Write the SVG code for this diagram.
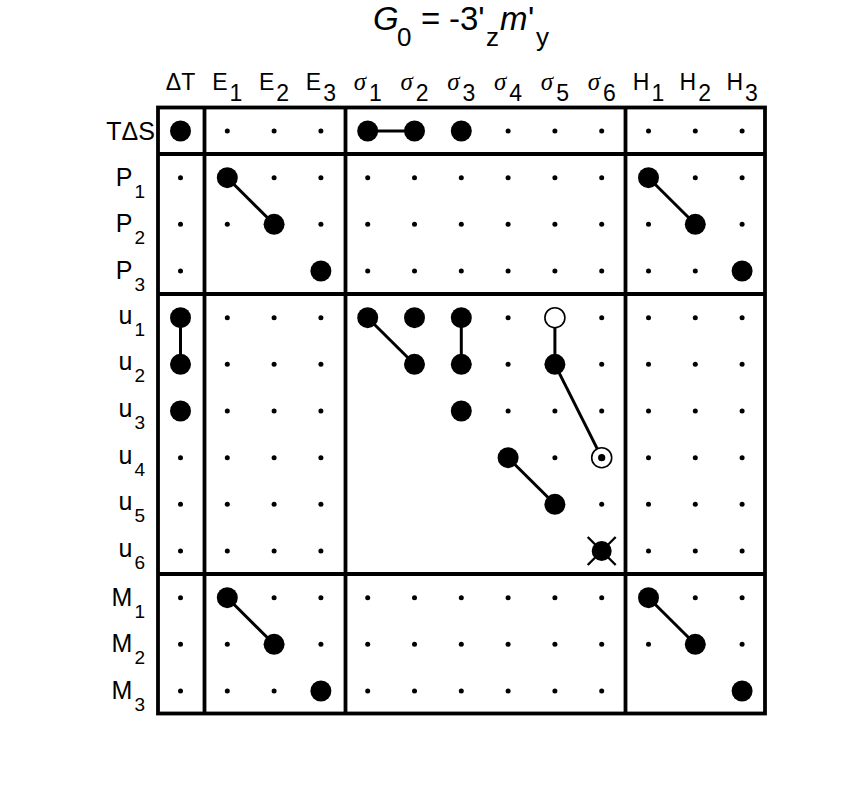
<svg xmlns="http://www.w3.org/2000/svg" xmlns:xlink="http://www.w3.org/1999/xlink" width="856" height="812" viewBox="0 0 856 812">
<style>
.t{font-family:"Liberation Sans",Arial,sans-serif;fill:#000}
.h{font-size:23px}
.g{font-family:"Liberation Serif","Times New Roman",serif;font-style:italic;font-size:25px}
.r{font-size:25px}
.rs{font-size:19px}
.frame{fill:none;stroke:#000;stroke-width:3.8}
.sep{stroke:#000;stroke-width:3.8}
.c{stroke:#000;stroke-width:3;fill:none}
</style>
<defs>
<circle id="d" r="2.5" fill="#000"/>
<circle id="F" r="10.5" fill="#000"/>
<circle id="O" r="10" fill="#fff" stroke="#000" stroke-width="1.6"/>
<g id="C"><circle r="10" fill="#fff" stroke="#000" stroke-width="1.6"/><circle r="3.6" fill="#000"/></g>
<g id="X"><path d="M-14,-14L14,14M14,-14L-14,14" stroke="#000" stroke-width="2.4"/><circle r="10" fill="#000"/></g>
</defs>
<rect width="856" height="812" fill="#fff"/>

<g id="title" class="t">
<text y="30" font-size="33"><tspan x="373" font-style="italic">G</tspan><tspan x="397" y="46" font-size="26">0</tspan><tspan x="421" y="30">=</tspan><tspan x="449">-3'</tspan><tspan x="486" y="46" font-size="26">z</tspan><tspan x="500" y="30" font-style="italic">m</tspan><tspan x="528">'</tspan><tspan x="536" y="46" font-size="26">y</tspan></text>
</g>

<g id="col-headers" class="t h">
<text x="180.5" y="90" text-anchor="middle">ΔT</text>
<text x="227.3" y="90" text-anchor="middle">E<tspan dx="2" dy="11">1</tspan></text>
<text x="274.1" y="90" text-anchor="middle">E<tspan dx="2" dy="11">2</tspan></text>
<text x="320.9" y="90" text-anchor="middle">E<tspan dx="2" dy="11">3</tspan></text>
<text x="367.7" y="90" text-anchor="middle"><tspan class="g">σ</tspan><tspan dx="3" dy="11">1</tspan></text>
<text x="414.5" y="90" text-anchor="middle"><tspan class="g">σ</tspan><tspan dx="3" dy="11">2</tspan></text>
<text x="461.3" y="90" text-anchor="middle"><tspan class="g">σ</tspan><tspan dx="3" dy="11">3</tspan></text>
<text x="508.1" y="90" text-anchor="middle"><tspan class="g">σ</tspan><tspan dx="3" dy="11">4</tspan></text>
<text x="554.9" y="90" text-anchor="middle"><tspan class="g">σ</tspan><tspan dx="3" dy="11">5</tspan></text>
<text x="601.7" y="90" text-anchor="middle"><tspan class="g">σ</tspan><tspan dx="3" dy="11">6</tspan></text>
<text x="648.5" y="90" text-anchor="middle">H<tspan dx="2" dy="11">1</tspan></text>
<text x="695.3" y="90" text-anchor="middle">H<tspan dx="2" dy="11">2</tspan></text>
<text x="742.1" y="90" text-anchor="middle">H<tspan dx="2" dy="11">3</tspan></text>
</g>

<g id="row-labels" class="t r">
<text x="155" y="140" text-anchor="end">TΔS</text>
<text x="145" y="186" text-anchor="end">P<tspan class="rs" dx="2" dy="12">1</tspan></text>
<text x="145" y="232" text-anchor="end">P<tspan class="rs" dx="2" dy="12">2</tspan></text>
<text x="145" y="279" text-anchor="end">P<tspan class="rs" dx="2" dy="12">3</tspan></text>
<text x="145" y="324" text-anchor="end">u<tspan class="rs" dx="2" dy="12">1</tspan></text>
<text x="145" y="370" text-anchor="end">u<tspan class="rs" dx="2" dy="12">2</tspan></text>
<text x="145" y="417" text-anchor="end">u<tspan class="rs" dx="2" dy="12">3</tspan></text>
<text x="145" y="464" text-anchor="end">u<tspan class="rs" dx="2" dy="12">4</tspan></text>
<text x="145" y="510" text-anchor="end">u<tspan class="rs" dx="2" dy="12">5</tspan></text>
<text x="145" y="557" text-anchor="end">u<tspan class="rs" dx="2" dy="12">6</tspan></text>
<text x="145" y="606" text-anchor="end">M<tspan class="rs" dx="2" dy="12">1</tspan></text>
<text x="145" y="652" text-anchor="end">M<tspan class="rs" dx="2" dy="12">2</tspan></text>
<text x="145" y="699" text-anchor="end">M<tspan class="rs" dx="2" dy="12">3</tspan></text>
</g>

<g id="frame">
<rect class="frame" x="158" y="107.5" width="607" height="606"/>
<line class="sep" x1="204.5" y1="107.5" x2="204.5" y2="713.5"/>
<line class="sep" x1="345.5" y1="107.5" x2="345.5" y2="713.5"/>
<line class="sep" x1="625.5" y1="107.5" x2="625.5" y2="713.5"/>
<line class="sep" x1="158" y1="154" x2="765" y2="154"/>
<line class="sep" x1="158" y1="294" x2="765" y2="294"/>
<line class="sep" x1="158" y1="574" x2="765" y2="574"/>
</g>

<g id="connectors" class="c">
<line x1="367.7" y1="131" x2="414.5" y2="131"/>
<line x1="227.3" y1="177.7" x2="274.1" y2="224.3"/>
<line x1="648.5" y1="177.7" x2="695.3" y2="224.3"/>
<line x1="180.5" y1="317.7" x2="180.5" y2="364.3"/>
<line x1="367.7" y1="317.7" x2="414.5" y2="364.3"/>
<line x1="461.3" y1="317.7" x2="461.3" y2="364.3"/>
<line x1="554.9" y1="317.7" x2="554.9" y2="364.3"/>
<line x1="554.9" y1="364.3" x2="601.7" y2="457.7"/>
<line x1="508.1" y1="457.7" x2="554.9" y2="504.3"/>
<line x1="227.3" y1="597.7" x2="274.1" y2="644.3"/>
<line x1="648.5" y1="597.7" x2="695.3" y2="644.3"/>
</g>

<g id="grid-dots">
<use href="#d" x="227.3" y="131"/><use href="#d" x="274.1" y="131"/><use href="#d" x="320.9" y="131"/><use href="#d" x="508.1" y="131"/><use href="#d" x="554.9" y="131"/><use href="#d" x="601.7" y="131"/><use href="#d" x="648.5" y="131"/><use href="#d" x="695.3" y="131"/><use href="#d" x="742.1" y="131"/>
<use href="#d" x="180.5" y="177.7"/><use href="#d" x="274.1" y="177.7"/><use href="#d" x="320.9" y="177.7"/><use href="#d" x="367.7" y="177.7"/><use href="#d" x="414.5" y="177.7"/><use href="#d" x="461.3" y="177.7"/><use href="#d" x="508.1" y="177.7"/><use href="#d" x="554.9" y="177.7"/><use href="#d" x="601.7" y="177.7"/><use href="#d" x="695.3" y="177.7"/><use href="#d" x="742.1" y="177.7"/>
<use href="#d" x="180.5" y="224.3"/><use href="#d" x="227.3" y="224.3"/><use href="#d" x="320.9" y="224.3"/><use href="#d" x="367.7" y="224.3"/><use href="#d" x="414.5" y="224.3"/><use href="#d" x="461.3" y="224.3"/><use href="#d" x="508.1" y="224.3"/><use href="#d" x="554.9" y="224.3"/><use href="#d" x="601.7" y="224.3"/><use href="#d" x="648.5" y="224.3"/><use href="#d" x="742.1" y="224.3"/>
<use href="#d" x="180.5" y="271"/><use href="#d" x="367.7" y="271"/><use href="#d" x="414.5" y="271"/><use href="#d" x="461.3" y="271"/><use href="#d" x="508.1" y="271"/><use href="#d" x="554.9" y="271"/><use href="#d" x="601.7" y="271"/><use href="#d" x="648.5" y="271"/><use href="#d" x="695.3" y="271"/>
<use href="#d" x="227.3" y="317.7"/><use href="#d" x="274.1" y="317.7"/><use href="#d" x="320.9" y="317.7"/><use href="#d" x="508.1" y="317.7"/><use href="#d" x="601.7" y="317.7"/><use href="#d" x="648.5" y="317.7"/><use href="#d" x="695.3" y="317.7"/><use href="#d" x="742.1" y="317.7"/>
<use href="#d" x="227.3" y="364.3"/><use href="#d" x="274.1" y="364.3"/><use href="#d" x="320.9" y="364.3"/><use href="#d" x="508.1" y="364.3"/><use href="#d" x="601.7" y="364.3"/><use href="#d" x="648.5" y="364.3"/><use href="#d" x="695.3" y="364.3"/><use href="#d" x="742.1" y="364.3"/>
<use href="#d" x="227.3" y="411"/><use href="#d" x="274.1" y="411"/><use href="#d" x="320.9" y="411"/><use href="#d" x="508.1" y="411"/><use href="#d" x="554.9" y="411"/><use href="#d" x="601.7" y="411"/><use href="#d" x="648.5" y="411"/><use href="#d" x="695.3" y="411"/><use href="#d" x="742.1" y="411"/>
<use href="#d" x="180.5" y="457.7"/><use href="#d" x="227.3" y="457.7"/><use href="#d" x="274.1" y="457.7"/><use href="#d" x="320.9" y="457.7"/><use href="#d" x="554.9" y="457.7"/><use href="#d" x="648.5" y="457.7"/><use href="#d" x="695.3" y="457.7"/><use href="#d" x="742.1" y="457.7"/>
<use href="#d" x="180.5" y="504.3"/><use href="#d" x="227.3" y="504.3"/><use href="#d" x="274.1" y="504.3"/><use href="#d" x="320.9" y="504.3"/><use href="#d" x="601.7" y="504.3"/><use href="#d" x="648.5" y="504.3"/><use href="#d" x="695.3" y="504.3"/><use href="#d" x="742.1" y="504.3"/>
<use href="#d" x="180.5" y="551"/><use href="#d" x="227.3" y="551"/><use href="#d" x="274.1" y="551"/><use href="#d" x="320.9" y="551"/><use href="#d" x="648.5" y="551"/><use href="#d" x="695.3" y="551"/><use href="#d" x="742.1" y="551"/>
<use href="#d" x="180.5" y="597.7"/><use href="#d" x="274.1" y="597.7"/><use href="#d" x="320.9" y="597.7"/><use href="#d" x="367.7" y="597.7"/><use href="#d" x="414.5" y="597.7"/><use href="#d" x="461.3" y="597.7"/><use href="#d" x="508.1" y="597.7"/><use href="#d" x="554.9" y="597.7"/><use href="#d" x="601.7" y="597.7"/><use href="#d" x="695.3" y="597.7"/><use href="#d" x="742.1" y="597.7"/>
<use href="#d" x="180.5" y="644.3"/><use href="#d" x="227.3" y="644.3"/><use href="#d" x="320.9" y="644.3"/><use href="#d" x="367.7" y="644.3"/><use href="#d" x="414.5" y="644.3"/><use href="#d" x="461.3" y="644.3"/><use href="#d" x="508.1" y="644.3"/><use href="#d" x="554.9" y="644.3"/><use href="#d" x="601.7" y="644.3"/><use href="#d" x="648.5" y="644.3"/><use href="#d" x="742.1" y="644.3"/>
<use href="#d" x="180.5" y="691"/><use href="#d" x="227.3" y="691"/><use href="#d" x="274.1" y="691"/><use href="#d" x="367.7" y="691"/><use href="#d" x="414.5" y="691"/><use href="#d" x="461.3" y="691"/><use href="#d" x="508.1" y="691"/><use href="#d" x="554.9" y="691"/><use href="#d" x="601.7" y="691"/>
</g>

<g id="nodes">
<g id="n-TdS-dT"><use href="#F" x="180.5" y="131"/></g>
<g id="n-TdS-s1"><use href="#F" x="367.7" y="131"/></g>
<g id="n-TdS-s2"><use href="#F" x="414.5" y="131"/></g>
<g id="n-TdS-s3"><use href="#F" x="461.3" y="131"/></g>
<g id="n-P1-E1"><use href="#F" x="227.3" y="177.7"/></g>
<g id="n-P1-H1"><use href="#F" x="648.5" y="177.7"/></g>
<g id="n-P2-E2"><use href="#F" x="274.1" y="224.3"/></g>
<g id="n-P2-H2"><use href="#F" x="695.3" y="224.3"/></g>
<g id="n-P3-E3"><use href="#F" x="320.9" y="271"/></g>
<g id="n-P3-H3"><use href="#F" x="742.1" y="271"/></g>
<g id="n-u1-dT"><use href="#F" x="180.5" y="317.7"/></g>
<g id="n-u1-s1"><use href="#F" x="367.7" y="317.7"/></g>
<g id="n-u1-s2"><use href="#F" x="414.5" y="317.7"/></g>
<g id="n-u1-s3"><use href="#F" x="461.3" y="317.7"/></g>
<g id="n-u1-s5"><use href="#O" x="554.9" y="317.7"/></g>
<g id="n-u2-dT"><use href="#F" x="180.5" y="364.3"/></g>
<g id="n-u2-s2"><use href="#F" x="414.5" y="364.3"/></g>
<g id="n-u2-s3"><use href="#F" x="461.3" y="364.3"/></g>
<g id="n-u2-s5"><use href="#F" x="554.9" y="364.3"/></g>
<g id="n-u3-dT"><use href="#F" x="180.5" y="411"/></g>
<g id="n-u3-s3"><use href="#F" x="461.3" y="411"/></g>
<g id="n-u4-s4"><use href="#F" x="508.1" y="457.7"/></g>
<g id="n-u4-s6"><use href="#C" x="601.7" y="457.7"/></g>
<g id="n-u5-s5"><use href="#F" x="554.9" y="504.3"/></g>
<g id="n-u6-s6"><use href="#X" x="601.7" y="551"/></g>
<g id="n-M1-E1"><use href="#F" x="227.3" y="597.7"/></g>
<g id="n-M1-H1"><use href="#F" x="648.5" y="597.7"/></g>
<g id="n-M2-E2"><use href="#F" x="274.1" y="644.3"/></g>
<g id="n-M2-H2"><use href="#F" x="695.3" y="644.3"/></g>
<g id="n-M3-E3"><use href="#F" x="320.9" y="691"/></g>
<g id="n-M3-H3"><use href="#F" x="742.1" y="691"/></g>
</g>
</svg>
